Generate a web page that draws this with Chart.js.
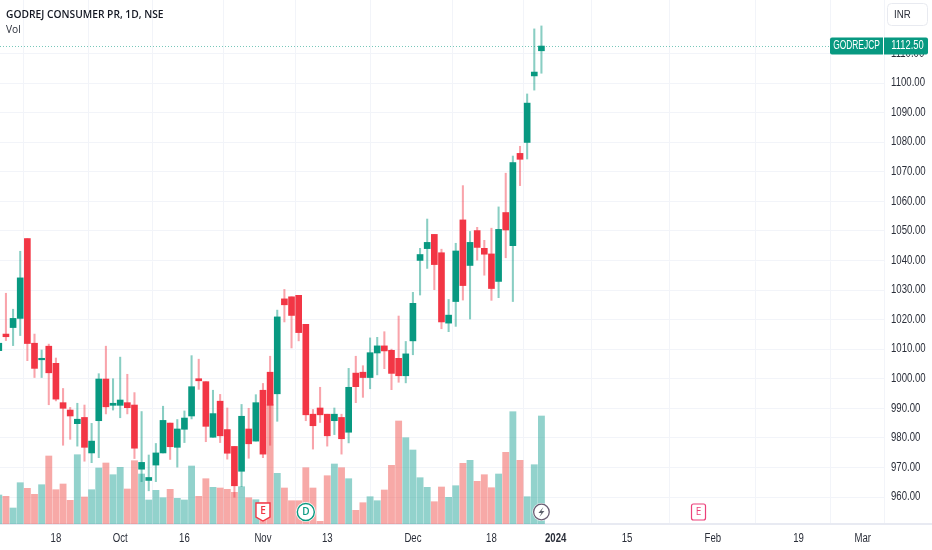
<!DOCTYPE html>
<html><head><meta charset="utf-8">
<style>html,body{margin:0;padding:0;background:#fff}canvas{display:block}</style>
<script src="https://cdn.jsdelivr.net/npm/chart.js@4/dist/chart.umd.min.js"></script>
</head><body>
<canvas id="c" width="932" height="550"></canvas>
<script>
const opens=[1009.5,1015.1,1017.3,1020.4,1047.4,1012.0,1006.4,1011.0,1005.2,991.9,
989.4,984.8,986.9,974.9,985.8,999.9,991.0,991.0,991.9,991.1,
969.4,965.6,970.8,974.9,985.0,976.8,982.9,987.4,1000.0,999.0,
980.2,992.4,982.8,977.1,968.7,983.0,978.9,996.1,1002.2,994.9,
1027.0,1027.7,1028.2,1018.4,988.0,990.1,988.0,985.8,986.9,981.9,
1001.9,1002.2,1000.4,1008.7,1011.1,1009.6,1006.9,1001.0,1012.8,1040.0,
1044.0,1048.8,1042.6,1018.8,1026.1,1053.7,1038.3,1050.1,1044.1,1042.2,
1032.9,1056.2,1045.0,1076.2,1079.9,1102.4,1110.9];
const highs=[1013,1028.9,1023.5,1043.1,1047.4,1015.1,1009.7,1011.7,1007.0,996.7,
990.3,991.7,991.1,984.9,1001.7,1011.0,1000.0,1007.3,1001.5,995.3,
988.9,974.2,978.1,990.7,985.0,986.2,989.1,1007.8,1006.6,999.0,
996.1,994.7,990.1,977.1,991.3,990.0,994.6,998.4,1007.6,1023.2,
1030.2,1027.7,1028.2,1018.4,989.6,997.1,988.0,990.1,988.0,1003.5,
1007.6,1004.4,1013.8,1014.0,1015.9,1010.0,1021.2,1012.6,1029.2,1044.1,
1054.0,1048.8,1043.8,1026.8,1045.8,1065.3,1049.8,1051.2,1046.8,1050.9,
1058.1,1069.5,1075.3,1078.6,1096.3,1118.3,1119.3];
const lows=[1008,1012.9,1011.2,1014.6,1006.1,1000.4,1000.4,991.2,992.5,977.5,
979.5,977.2,972.1,971.6,973.3,988.1,989.4,986.8,988.1,973.0,
965.2,962.1,965.2,974.9,972.7,970.1,978.4,986.4,996.4,978.7,
980.2,978.4,972.8,959.9,963.5,973.1,978.9,973.3,977.5,985.6,
1019.2,1010.4,1012.8,985.8,976.2,985.2,977.2,981.1,974.5,978.3,
991.9,993.7,996.6,1001.3,1003.4,996.3,998.8,998.6,1008.1,1028.3,
1037.3,1030.1,1016.9,1015.9,1017.7,1026.6,1020.2,1040.1,1035.0,1026.5,
1027.4,1040.9,1026.1,1065.3,1074.3,1097.6,1103.3];
const closes=[1012.0,1014.2,1020.4,1034.1,1011.9,1003.5,1006.7,1002.0,993.1,990.0,
987.4,986.3,976.8,978.9,999.9,990.5,991.7,992.8,990.2,976.5,
971.7,966.6,974.9,985.9,977.0,983.0,986.7,997.3,999.3,983.9,
988.2,980.7,974.8,963.8,987.3,978.0,991.9,974.5,991.0,1020.9,
1025.0,1021.4,1015.6,987.8,984.1,987.8,980.7,988.0,979.7,997.1,
997.3,1000.4,1008.8,1011.1,1009.4,1001.8,1001.0,1008.4,1025.5,1042.0,
1046.1,1038.6,1019.2,1021.5,1043.2,1031.5,1046.1,1044.4,1042.1,1030.5,
1050.5,1050.3,1073.1,1074.2,1093.2,1103.7,1112.5];
const volumes=[290,277,160,413,357,297,393,680,343,400,
237,693,270,343,560,610,493,567,350,633,
500,240,337,263,347,257,240,580,277,453,
367,360,347,317,373,263,243,210,1197,507,
360,233,233,563,360,27,483,600,563,453,
137,213,273,233,340,587,1030,863,740,463,
367,223,370,267,383,607,637,427,493,363,
500,717,1123,637,273,593,1080];
const xTickIndex=[8,17,26,37,46,58,69,78,88,100,112,121];
const xTickLabels=['18','Oct','16','Nov','13','Dec','18','2024','15','Feb','19','Mar'];
const priceTicks=[960,970,980,990,1000,1010,1020,1030,1040,1050,1060,1070,1080,1090,1100,1110];
const lastPrice=1112.5, symbol='GODREJCP';
const titleText='GODREJ CONSUMER PR, 1D, NSE', volLabel='Vol', currency='INR';
const earningsPast=37, dividend=43, splitNow=76, earningsNext=98;

const UP='#089981', DOWN='#f23645', INK='#131722', GRID='#f2f4f9';
const FONT='"Liberation Sans",sans-serif';
const isUp=i=>closes[i]>=opens[i];
const idx=opens.map((_,i)=>i);

const canvas=document.getElementById('c');
const rawCtx=canvas.getContext('2d');
// The reference's typeface is narrower than the installed ones: condense glyphs horizontally.
let textScale=0.8;
const nativeFill=rawCtx.fillText;
rawCtx.fillText=function(t,x,y){
  this.save();this.translate(x,y);this.scale(textScale,1);
  nativeFill.call(this,t,0,0);this.restore();
};

function rr(ctx,x,y,w,h,r){ctx.beginPath();ctx.roundRect(x,y,w,h,r);}
const overlay={
  id:'overlay',
  beforeDatasetsDraw(ch){
    const c=ch.ctx,y=ch.scales.y.getPixelForValue(lastPrice);
    c.save();c.strokeStyle='rgba(8,153,129,.55)';c.lineWidth=1;c.setLineDash([1,2]);
    c.beginPath();c.moveTo(0,Math.round(y)+.5);c.lineTo(ch.chartArea.right,Math.round(y)+.5);c.stroke();c.restore();
  },
  afterDraw(ch){
    const c=ch.ctx,xs=ch.scales.x,ys=ch.scales.y,b=ch.chartArea.bottom;
    c.save();
    c.fillStyle='#e8eaf2';c.fillRect(884,b-1,48,2);
    // top-left legend
    c.textBaseline='middle';c.textAlign='left';c.fillStyle=INK;
    textScale=0.89;
    c.font='600 11.5px "Open Sans",sans-serif';
    c.fillText(titleText,6,15);
    c.font='11.5px "Open Sans",sans-serif';c.fillStyle='#2a2e39';
    c.fillText(volLabel,6,30);
    // currency button
    c.fillStyle='#fff';c.strokeStyle='#e8eaf0';c.lineWidth=1;
    rr(c,887.5,3.5,40,22,4);c.fill();c.stroke();
    textScale=0.84;
    c.fillStyle='#2a2e39';c.font='11.5px '+FONT;c.fillText(currency,894,15);
    // last price tag
    const py=Math.round(ys.getPixelForValue(lastPrice));
    c.fillStyle=UP;rr(c,830,py-8.5,53,17,[2,0,0,2]);c.fill();
    rr(c,884,py-8.5,44,17,[0,2,2,0]);c.fill();
    c.fillStyle='#fff';c.font='12px '+FONT;c.textAlign='center';
    textScale=0.7;c.fillText(symbol,856.5,py);
    textScale=0.78;c.fillText(lastPrice.toFixed(2),907.5,py);
    textScale=1;
    // earnings shield
    const ex=xs.getPixelForValue(earningsPast),by=b-12;
    c.fillStyle='#fff';c.strokeStyle=DOWN;c.lineWidth=1.4;
    c.beginPath();c.moveTo(ex-7,by-9);c.lineTo(ex+7,by-9);c.lineTo(ex+7,by+5);c.lineTo(ex,by+9);c.lineTo(ex-7,by+5);c.closePath();c.fill();c.stroke();
    c.fillStyle=DOWN;c.font='600 10px "Open Sans",sans-serif';c.fillText('E',ex,by-0.5);
    // dividend circle
    const dx=xs.getPixelForValue(dividend);
    c.fillStyle='#fff';c.beginPath();c.arc(dx,by,10,0,7);c.fill();
    c.strokeStyle=UP;c.lineWidth=1.4;c.beginPath();c.arc(dx,by,8.5,0,7);c.stroke();
    c.fillStyle=UP;c.fillText('D',dx,by);
    // split / flash circle
    const sx=xs.getPixelForValue(splitNow);
    c.fillStyle='#fff';c.beginPath();c.arc(sx,by,9,0,7);c.fill();
    c.strokeStyle='#6a5d73';c.lineWidth=1.3;c.beginPath();c.arc(sx,by,7.8,0,7);c.stroke();
    c.fillStyle='#5d606b';c.beginPath();
    c.moveTo(sx+2,by-5);c.lineTo(sx-3,by+1);c.lineTo(sx,by+1);c.lineTo(sx-2,by+5);c.lineTo(sx+3,by-1);c.lineTo(sx,by-1);c.closePath();c.fill();
    // upcoming earnings
    const nx=xs.getPixelForValue(earningsNext);
    c.fillStyle='#fff';c.strokeStyle='#ec407a';c.lineWidth=1.2;
    rr(c,nx-7,by-8,14,16,2);c.fill();c.stroke();
    c.fillStyle='#ec407a';c.font='10px "Open Sans",sans-serif';c.fillText('E',nx,by);
    c.restore();
    textScale=0.8;
  }
};

new Chart(canvas,{
  type:'bar',
  data:{datasets:[
    {label:'Vol',yAxisID:'v',order:3,grouped:false,barThickness:6.2,
     data:idx.map(i=>({x:i,y:volumes[i]})),
     backgroundColor:idx.map(i=>isUp(i)?'rgba(38,166,154,.5)':'rgba(239,83,80,.5)')},
    {label:'Range',yAxisID:'y',order:2,grouped:false,barThickness:1.4,
     data:idx.map(i=>({x:i,y:[lows[i],highs[i]]})),
     backgroundColor:idx.map(i=>isUp(i)?'rgba(8,153,129,.48)':'rgba(242,54,69,.45)')},
    {label:'Body',yAxisID:'y',order:1,grouped:false,barThickness:6,minBarLength:1.5,
     data:idx.map(i=>({x:i,y:[opens[i],closes[i]]})),
     backgroundColor:idx.map(i=>isUp(i)?UP:DOWN)}
  ]},
  options:{
    responsive:false,animation:false,devicePixelRatio:1,
    layout:{padding:0,autoPadding:false},
    plugins:{legend:{display:false},tooltip:{enabled:false},title:{display:false}},
    scales:{
      x:{type:'linear',min:0.168,max:123.98,offset:false,
        afterFit(s){s.height=26;s.paddingLeft=s.paddingRight=0;},
        afterBuildTicks(s){s.ticks=xTickIndex.map(v=>({value:v}));},
        grid:{color:GRID,drawTicks:false,lineWidth:1},
        border:{color:'#e8eaf2',width:2},
        ticks:{autoSkip:false,maxRotation:0,padding:7,color:'#2a2e39',
          callback:v=>xTickLabels[xTickIndex.indexOf(v)],
          font:ctx=>{const bold=ctx.tick&&xTickLabels[xTickIndex.indexOf(ctx.tick.value)]==='2024';
            return {family:FONT,size:12,weight:bold?'bold':'normal'};}}},
      y:{type:'linear',position:'right',min:950.87,max:1128.07,
        afterFit(s){s.width=48;s.paddingTop=s.paddingBottom=0;},
        afterBuildTicks(s){s.ticks=priceTicks.map(v=>({value:v}));},
        grid:{color:GRID,drawTicks:false,lineWidth:1},
        border:{color:GRID,width:1},
        ticks:{padding:7,color:'#2a2e39',callback:v=>v.toFixed(2),font:{family:FONT,size:12}}},
      v:{type:'linear',axis:'y',display:false,min:0,max:5240}
    }
  },
  plugins:[overlay]
});
</script>
</body></html>
